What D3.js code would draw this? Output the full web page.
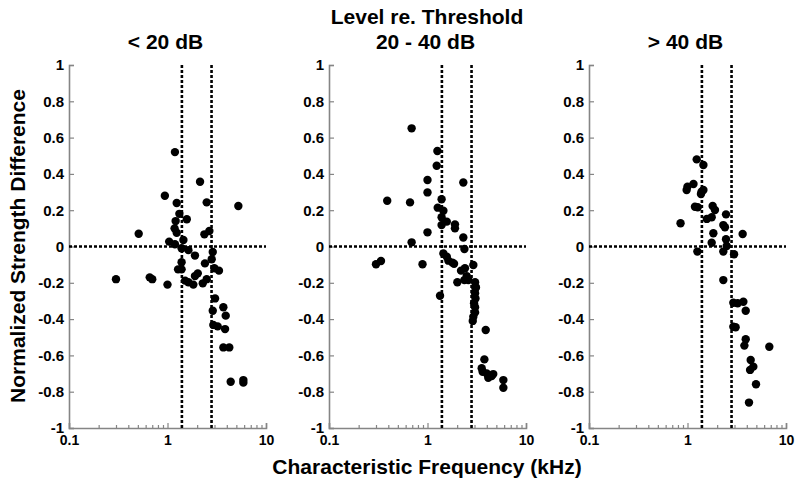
<!DOCTYPE html>
<html>
<head>
<meta charset="utf-8">
<script src="https://cdn.jsdelivr.net/npm/d3@7"></script>
<style>
  html, body { margin: 0; padding: 0; background: #fff; }
  svg { display: block; font-family: "Liberation Sans", Arial, sans-serif; }
</style>
</head>
<body>
<svg id="chart" width="800" height="486"></svg>
<script>
// ---- Data (CF in kHz, normalized strength difference) ----
const panelTitles = ["< 20 dB", "20 - 40 dB", "> 40 dB"];
const superTitle = "Level re. Threshold";
const xLabel = "Characteristic Frequency (kHz)";
const yLabel = "Normalized Strength Difference";
const yTickValues = [-1, -0.8, -0.6, -0.4, -0.2, 0, 0.2, 0.4, 0.6, 0.8, 1];
const xMajorTicks = [0.1, 1, 10];
const xMinorTicks = [0.2,0.3,0.4,0.5,0.6,0.7,0.8,0.9,2,3,4,5,6,7,8,9];
const refLinesCF = [1.4, 2.8];

const cfLow = [0.30,0.51,0.66,0.70,1.0,0.94,1.19,1.24,1.32,1.21,1.18,1.24,1.04,1.19,1.45,1.39,1.57,1.63,1.90,2.14,2.50,2.37,2.66,2.88,2.81,2.40,1.39,1.28,1.39,5.24,2.99,3.33,1.51,1.63,1.83,1.90,2.03,2.28,2.50,3.04,2.88,3.69,3.90,2.92,3.23,3.84,3.69,4.24,4.38,5.89,5.89];
const sdLow = [-0.18,0.07,-0.17,-0.18,-0.21,0.28,0.52,0.24,0.18,0.14,0.10,0.076,0.027,0.012,0.036,-0.01,0.15,-0.02,-0.05,0.357,0.243,0.067,0.085,-0.03,-0.07,-0.093,-0.087,-0.126,-0.126,0.223,-0.12,-0.133,-0.188,-0.197,-0.21,-0.163,-0.148,-0.203,-0.18,-0.286,-0.354,-0.335,-0.381,-0.432,-0.44,-0.455,-0.556,-0.556,-0.745,-0.736,-0.75];

const cfMid = [0.30,0.337,0.39,0.665,0.69,0.69,0.89,1.0,1.0,1.0,1.26,1.24,1.39,1.27,1.45,1.39,1.57,1.39,1.90,1.90,2.31,2.31,2.37,1.45,1.57,1.63,1.79,1.86,2.92,2.19,2.40,2.01,2.50,2.37,2.60,3.04,3.10,1.34,3.07,3.04,3.07,2.97,3.04,3.04,2.92,2.88,3.90,3.78,3.55,3.63,3.99,4.14,4.48,4.65,5.89,5.89];
const sdMid = [-0.098,-0.08,0.252,0.243,0.651,0.023,-0.098,0.366,0.298,0.078,0.526,0.445,0.26,0.214,0.197,0.161,0.137,0.118,0.122,0.10,0.353,0.05,-0.014,-0.038,-0.056,-0.078,-0.089,-0.095,-0.102,-0.133,-0.12,-0.197,-0.163,-0.185,-0.185,-0.197,-0.225,-0.271,-0.23,-0.258,-0.286,-0.313,-0.335,-0.363,-0.387,-0.41,-0.46,-0.622,-0.671,-0.69,-0.699,-0.723,-0.714,-0.703,-0.736,-0.778];

const cfHigh = [0.85,0.98,1.0,1.15,1.24,1.45,1.39,1.45,1.37,1.19,1.27,1.80,1.90,1.57,1.76,2.46,2.31,2.40,1.83,3.63,1.76,2.46,2.50,2.31,1.26,2.97,2.31,2.92,3.23,3.69,3.90,2.92,3.08,3.90,3.78,6.77,4.38,4.66,4.32,4.96,4.21];
const sdHigh = [0.128,0.311,0.33,0.344,0.48,0.449,0.302,0.311,0.289,0.219,0.216,0.223,0.201,0.152,0.161,0.177,0.118,0.106,0.073,0.069,0.021,0.04,0.003,-0.028,-0.028,-0.043,-0.185,-0.31,-0.313,-0.304,-0.354,-0.442,-0.445,-0.511,-0.546,-0.552,-0.625,-0.662,-0.68,-0.759,-0.86];

const panelCF = [cfLow, cfMid, cfHigh];
const panelSD = [sdLow, sdMid, sdHigh];

// ---- Layout ----
const svg = d3.select("#chart");
const panelLeft = [69, 329, 589];
const panelWidth = 197;
const yTop = 65, yBottom = 428;
const axisColor = "#858585";

const y = d3.scaleLinear().domain([-1, 1]).range([yBottom, yTop]);

panelCF.forEach((cf, i) => {
  const x = d3.scaleLog().domain([0.1, 10]).range([panelLeft[i], panelLeft[i] + panelWidth]);
  const g = svg.append("g");

  // minor x ticks
  const gMinor = g.append("g").attr("transform", `translate(0,${yBottom})`)
    .call(d3.axisBottom(x).tickValues(xMinorTicks).tickSize(-3).tickFormat(""));
  gMinor.select(".domain").remove();
  gMinor.selectAll("line").attr("stroke", axisColor).attr("stroke-width", 1.2);

  // major x axis
  const gx = g.append("g").attr("transform", `translate(0,${yBottom})`)
    .call(d3.axisBottom(x).tickValues(xMajorTicks).tickSizeInner(-5).tickSizeOuter(-5)
      .tickPadding(4).tickFormat(d => d));
  gx.select(".domain").attr("stroke", axisColor).attr("stroke-width", 1.6);
  gx.selectAll("line").attr("stroke", axisColor).attr("stroke-width", 1.2);
  gx.selectAll("text").attr("font-size", 14).attr("font-weight", "bold").attr("fill", "#000")
    .attr("dy", "0.95em");

  // y axis
  const gy = g.append("g").attr("transform", `translate(${panelLeft[i]},0)`)
    .call(d3.axisLeft(y).tickValues(yTickValues).tickSizeInner(-5).tickSizeOuter(-5)
      .tickPadding(5).tickFormat(d => String(d)));
  gy.select(".domain").attr("stroke", axisColor).attr("stroke-width", 1.6);
  gy.selectAll("line").attr("stroke", axisColor).attr("stroke-width", 1.2);
  gy.selectAll("text").attr("font-size", 15).attr("font-weight", "bold").attr("fill", "#000");

  // dotted reference lines
  g.append("line")
    .attr("x1", x(0.1)).attr("x2", x(10)).attr("y1", y(0)).attr("y2", y(0))
    .attr("stroke", "#000").attr("stroke-width", 2.6).attr("stroke-dasharray", "3,2");
  refLinesCF.forEach(f => {
    g.append("line")
      .attr("x1", x(f)).attr("x2", x(f)).attr("y1", y(1)).attr("y2", y(-1))
      .attr("stroke", "#000").attr("stroke-width", 2.6).attr("stroke-dasharray", "3,2");
  });

  // points
  g.append("g").selectAll("circle")
    .data(cf.map((c, k) => ({ cf: c, sd: panelSD[i][k] })))
    .join("circle")
    .attr("cx", d => x(d.cf)).attr("cy", d => y(d.sd))
    .attr("r", 4.2).attr("fill", "#000");

  // panel title
  svg.append("text")
    .attr("x", panelLeft[i] + panelWidth / 2 - 2).attr("y", 49)
    .attr("text-anchor", "middle").attr("font-size", 21).attr("font-weight", "bold")
    .text(panelTitles[i]);
});

svg.append("text").attr("x", 427).attr("y", 24)
  .attr("text-anchor", "middle").attr("font-size", 21).attr("font-weight", "bold")
  .text(superTitle);

svg.append("text").attr("x", 427).attr("y", 474)
  .attr("text-anchor", "middle").attr("font-size", 21).attr("font-weight", "bold")
  .text(xLabel);

svg.append("text").attr("transform", "translate(25,246) rotate(-90)")
  .attr("text-anchor", "middle").attr("font-size", 21).attr("font-weight", "bold")
  .text(yLabel);
</script>
</body>
</html>
